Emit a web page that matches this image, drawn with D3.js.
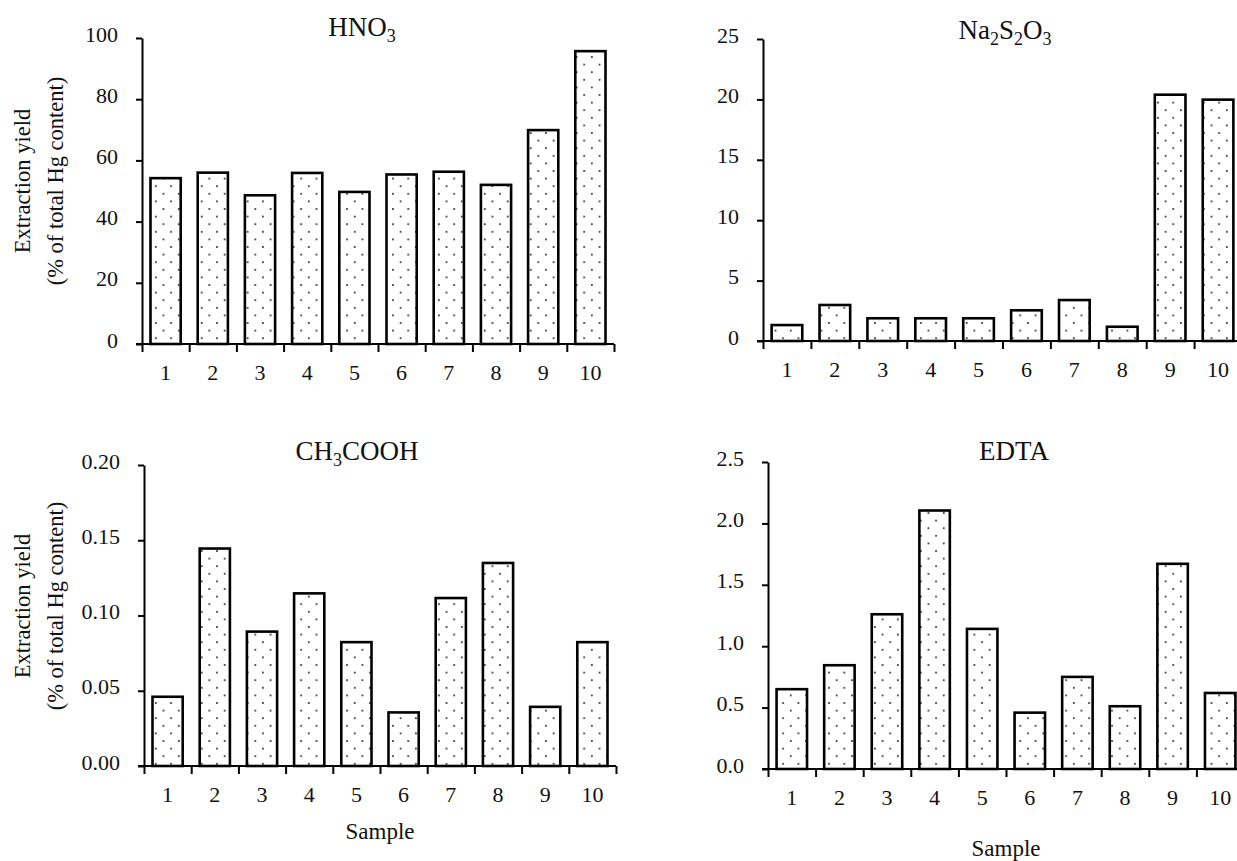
<!DOCTYPE html>
<html>
<head>
<meta charset="utf-8">
<script src="https://cdn.jsdelivr.net/npm/d3@7"></script>
<style>
  body { margin: 0; background: #fff; }
  svg { display: block; font-family: "Liberation Serif", "Times New Roman", serif; }
  .tick text { font-family: "Liberation Serif", "Times New Roman", serif; font-size: 22px; fill: #111; }
  .axis path, .axis line { stroke: #000; stroke-width: 2; }
</style>
</head>
<body>
<svg width="1237" height="861"></svg>
<script>
// sample ids
const samples = ["1", "2", "3", "4", "5", "6", "7", "8", "9", "10"];

// extraction yields, % of total Hg
const hno3 = [54.2, 56.0, 48.6, 55.9, 49.7, 55.4, 56.3, 52.0, 69.9, 95.7];
const na2s2o3 = [1.32, 2.98, 1.88, 1.88, 1.88, 2.54, 3.39, 1.18, 20.39, 19.98];
const ch3cooh = [0.046, 0.1445, 0.0893, 0.1147, 0.0823, 0.0356, 0.1116, 0.1349, 0.0393, 0.0823];
const edta = [0.65, 0.845, 1.26, 2.105, 1.141, 0.459, 0.75, 0.511, 1.671, 0.619];

// y tick values
const hno3Ticks = [0, 20, 40, 60, 80, 100];
const na2s2o3Ticks = [0, 5, 10, 15, 20, 25];
const ch3coohTicks = [0, 0.05, 0.10, 0.15, 0.20];
const edtaTicks = [0, 0.5, 1.0, 1.5, 2.0, 2.5];

const svg = d3.select("svg");

// dotted fill
const pat = svg.append("defs").append("pattern")
    .attr("id", "dots")
    .attr("patternUnits", "userSpaceOnUse")
    .attr("width", 15.3)
    .attr("height", 15.2);
pat.append("rect").attr("width", 15.3).attr("height", 15.2).attr("fill", "#fff");
pat.append("rect").attr("x", 2).attr("y", 3).attr("width", 1.6).attr("height", 1.6).attr("fill", "#111");
pat.append("rect").attr("x", 9.65).attr("y", 10.6).attr("width", 1.6).attr("height", 1.6).attr("fill", "#111");

function drawPanel(o) {
    const g = svg.append("g");
    const right = o.left + o.step * samples.length;

    const x = d3.scaleBand()
        .domain(samples)
        .range([o.left, right])
        .paddingInner(0.36)
        .paddingOuter(0.18);
    const xEdge = d3.scaleLinear().domain([0, samples.length]).range([o.left, right]);
    const y = d3.scaleLinear().domain(o.domain).range([o.bottom, o.top]);

    // bars
    g.selectAll("rect.bar")
        .data(o.values)
        .join("rect")
        .attr("class", "bar")
        .attr("x", (d, i) => x(samples[i]))
        .attr("y", d => y(d))
        .attr("width", x.bandwidth())
        .attr("height", d => y(0) - y(d))
        .attr("fill", "url(#dots)")
        .attr("stroke", "#000")
        .attr("stroke-width", 2.6);

    // y axis
    const ya = g.append("g")
        .attr("class", "axis")
        .attr("transform", `translate(${o.left},0)`)
        .call(d3.axisLeft(y).tickValues(o.ticks).tickFormat(o.fmt)
            .tickSize(6).tickSizeOuter(0).tickPadding(18));
    ya.selectAll(".tick text").attr("dy", "0.14em");

    // x axis: ticks at band edges
    const xa = g.append("g")
        .attr("class", "axis")
        .attr("transform", `translate(0,${o.bottom})`)
        .call(d3.axisBottom(xEdge).tickValues(d3.range(samples.length + 1))
            .tickFormat("").tickSize(8).tickSizeOuter(0));
    xa.select(".domain").remove();
    xa.append("line")
        .attr("x1", o.left - 6).attr("x2", right)
        .attr("stroke", "#000").attr("stroke-width", 2);

    // x labels at band centres
    const xl = g.append("g")
        .attr("transform", `translate(0,${o.bottom})`)
        .call(d3.axisBottom(x).tickSize(0).tickPadding(20));
    xl.select(".domain").remove();

    // title with subscripts
    const t = g.append("text")
        .attr("x", o.titleX).attr("y", o.titleY)
        .attr("text-anchor", "middle")
        .attr("font-size", 27)
        .attr("fill", "#111");
    o.title.forEach(p => {
        const s = t.append("tspan").text(p[0]);
        if (p[1]) s.attr("font-size", 18).attr("dy", 6);
        else if (p[2]) s.attr("dy", -6);
    });

    if (o.yLabel) {
        const yl = g.append("text")
            .attr("transform", `translate(30,${o.yLabelY}) rotate(-90)`)
            .attr("text-anchor", "middle")
            .attr("font-size", 22.5)
            .attr("fill", "#111");
        yl.append("tspan").attr("x", 0).attr("y", 0).text("Extraction yield");
        yl.append("tspan").attr("x", 0).attr("y", 33).text("(% of total Hg content)");
    }
    if (o.xLabelY) {
        g.append("text")
            .attr("x", (o.left + right) / 2).attr("y", o.xLabelY)
            .attr("text-anchor", "middle")
            .attr("font-size", 23)
            .attr("fill", "#111")
            .text("Sample");
    }
}

drawPanel({
    values: hno3, domain: [0, 100], ticks: hno3Ticks, fmt: d3.format("d"),
    left: 142, step: 47.2, top: 38, bottom: 344,
    title: [["HNO"], ["3", true]], titleX: 362, titleY: 36,
    yLabel: true, yLabelY: 181
});
drawPanel({
    values: na2s2o3, domain: [0, 25], ticks: na2s2o3Ticks, fmt: d3.format("d"),
    left: 763, step: 47.9, top: 39, bottom: 341,
    title: [["Na"], ["2", true], ["S", false, true], ["2", true], ["O", false, true], ["3", true]],
    titleX: 1005, titleY: 39
});
drawPanel({
    values: ch3cooh, domain: [0, 0.2], ticks: ch3coohTicks, fmt: d3.format(".2f"),
    left: 144, step: 47.2, top: 465, bottom: 766,
    title: [["CH"], ["3", true], ["COOH", false, true]], titleX: 357, titleY: 460,
    yLabel: true, yLabelY: 606, xLabelY: 839
});
drawPanel({
    values: edta, domain: [0, 2.5], ticks: edtaTicks, fmt: d3.format(".1f"),
    left: 768, step: 47.6, top: 462, bottom: 769,
    title: [["EDTA"]], titleX: 1014, titleY: 460,
    xLabelY: 856
});
</script>
</body>
</html>
